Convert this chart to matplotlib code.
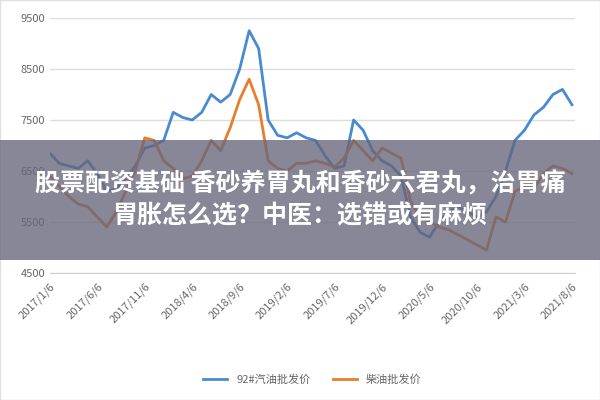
import numpy as np
import matplotlib.pyplot as plt
from matplotlib.patches import Rectangle

plt.rcParams['font.family'] = ['Noto Sans CJK SC', 'DejaVu Sans']

# monthly points, 2017/1 .. 2021/8
gasoline = [6850, 6650, 6600, 6550, 6700, 6450, 6100, 6150, 6350, 6600, 6950, 7000,
            7100, 7650, 7550, 7500, 7650, 8000, 7850, 8000, 8500, 9250, 8900, 7500,
            7200, 7150, 7250, 7150, 7100, 6800, 6550, 6600, 7500, 7300, 6900, 6700,
            6600, 6400, 5600, 5300, 5200, 5500, 5700, 5800, 5700, 5600, 5700, 6000,
            6500, 7100, 7300, 7600, 7750, 8000, 8100, 7800]
diesel = [6400, 6200, 6000, 5850, 5800, 5600, 5400, 5700, 6100, 6500, 7150, 7100,
          6700, 6550, 6350, 6400, 6700, 7100, 6900, 7350, 7900, 8300, 7800, 6700,
          6550, 6500, 6650, 6650, 6700, 6650, 6580, 6750, 7100, 6900, 6700, 6950,
          6850, 6750, 5900, 5600, 5500, 5400, 5350, 5250, 5150, 5050, 4950, 5600,
          5500, 6100, 6200, 6150, 6450, 6600, 6550, 6450]
tick_labels = ['2017/1/6', '2017/6/6', '2017/11/6', '2018/4/6', '2018/9/6', '2019/2/6',
               '2019/7/6', '2019/12/6', '2020/5/6', '2020/10/6', '2021/3/6', '2021/8/6']
title = '股票配资基础 香砂养胃丸和香砂六君丸，治胃痛\n胃胀怎么选？中医：选错或有麻烦'

fig = plt.figure(figsize=(6, 4), dpi=100)
ax = fig.add_axes([0.083, 0.3175, 0.875, 0.6375])
x = np.arange(len(gasoline))
ax.plot(x, gasoline, color='#4a8ad0', lw=2, label='92#汽油批发价')
ax.plot(x, diesel, color='#e87d2d', lw=2, label='柴油批发价')
ax.set_ylim(4500, 9500)
ax.set_yticks(range(4500, 9501, 1000))
ax.set_xlim(0, 55.3)
ax.set_xticks(np.arange(0, 56, 5))
ax.set_xticklabels(tick_labels, rotation=45, ha='right', rotation_mode='anchor')
ax.tick_params(axis='both', colors='#666666', labelsize=8, length=0)
ax.tick_params(axis='x', pad=6)
ax.grid(axis='y', color='#dddddd', lw=1)
for s in ['top', 'right', 'left']:
    ax.spines[s].set_visible(False)
ax.spines['bottom'].set_color('#d0d0d0')
ax.legend(loc='center', bbox_to_anchor=(0.5, -0.42), ncol=2, frameon=False,
          fontsize=8, labelcolor='#666666', handlelength=2.2)

fig.patches.append(Rectangle((0, 0), 1, 1, transform=fig.transFigure, fill=False,
                             edgecolor='#e0e0e0', lw=1))
fig.patches.append(Rectangle((0, 0.35), 1, 0.3, transform=fig.transFigure,
                             facecolor='#66667a', alpha=0.78, zorder=5))
fig.text(0.5, 0.5, title, ha='center', va='center', color='white', fontsize=18,
         fontweight='bold', linespacing=1.4, zorder=6)

fig.savefig('out.png')
